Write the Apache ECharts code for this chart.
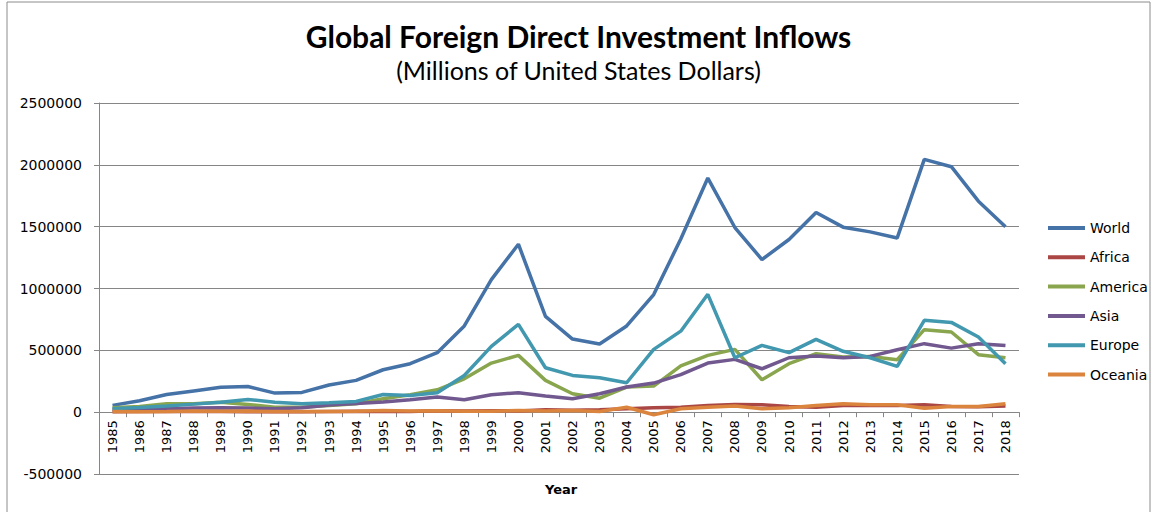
<!DOCTYPE html>
<html>
<head>
<meta charset="utf-8">
<script src="https://cdn.jsdelivr.net/npm/echarts@6/dist/echarts.min.js"></script>
<style>
  html, body { margin: 0; padding: 0; background: #fff; }
  #fdiChart { width: 1157px; height: 512px; }
</style>
</head>
<body>
<div id="fdiChart"></div>
<script>
	// years on the x axis
	var years = ['1985', '1986', '1987', '1988', '1989', '1990', '1991', '1992', '1993', '1994',
		'1995', '1996', '1997', '1998', '1999', '2000', '2001', '2002', '2003', '2004',
		'2005', '2006', '2007', '2008', '2009', '2010', '2011', '2012', '2013', '2014',
		'2015', '2016', '2017', '2018'];

	// inflows, millions of USD
	var world = [55000, 92000, 143000, 172000, 201000, 208000, 154000, 160000, 220000, 257000,
		343000, 392000, 481000, 697000, 1072000, 1358000, 775000, 591000, 551000, 697000,
		951000, 1400000, 1893000, 1493000, 1234000, 1396000, 1615000, 1496000, 1458000, 1409000,
		2044000, 1985000, 1706000, 1499000];
	var africa = [3000, 5000, 5000, 5000, 5000, 3000, 4000, 4000, 6000, 7000,
		6000, 6000, 11000, 10000, 12000, 10000, 20000, 15000, 19000, 27000,
		36000, 40000, 54000, 62000, 60000, 46000, 40000, 54000, 54000, 54000,
		60000, 46000, 44000, 50000];
	var america = [36000, 46000, 68000, 68000, 81000, 62000, 40000, 40000, 54000, 68000,
		108000, 141000, 181000, 270000, 397000, 459000, 257000, 149000, 113000, 203000,
		211000, 375000, 459000, 508000, 262000, 392000, 473000, 446000, 451000, 424000,
		667000, 648000, 465000, 440000];
	var asia = [22000, 19000, 27000, 33000, 35000, 33000, 28000, 35000, 58000, 70000,
		82000, 100000, 122000, 100000, 141000, 157000, 130000, 108000, 149000, 203000,
		235000, 303000, 397000, 427000, 351000, 440000, 454000, 440000, 451000, 505000,
		554000, 518000, 554000, 540000];
	var europe = [27000, 37000, 50000, 65000, 81000, 103000, 81000, 68000, 76000, 87000,
		143000, 135000, 157000, 297000, 532000, 710000, 359000, 297000, 278000, 238000,
		508000, 655000, 953000, 440000, 540000, 481000, 589000, 492000, 440000, 370000,
		743000, 726000, 608000, 392000];
	var oceania = [5000, 4000, 6000, 9000, 8000, 9000, 5000, 6000, 6000, 8000,
		13000, 10000, 12000, 8000, 7000, 13000, 10000, 14000, 6000, 40000,
		-21000, 27000, 40000, 49000, 27000, 36000, 54000, 68000, 60000, 60000,
		32000, 46000, 46000, 68000];

	var seriesNames = ['World', 'Africa', 'America', 'Asia', 'Europe', 'Oceania'];
	var seriesData = [world, africa, america, asia, europe, oceania];
	var colors = ['#4572A7', '#AA4643', '#89A54E', '#71588F', '#4198AF', '#DB843D'];

	var yMin = -500000, yMax = 2500000;
	var gridTop = 103, gridBottom = 38;
	var plotH = 512 - gridTop - gridBottom;
	// move the category axis up so that it sits on the zero line
	var zeroOffset = -plotH * (0 - yMin) / (yMax - yMin);

	var fdiChart = echarts.init(document.getElementById('fdiChart'), null, {
		renderer: 'svg'
	});

	var series = [];
	for (var i = 0; i < seriesNames.length; i++) {
		series.push({
			name: seriesNames[i],
			type: 'line',
			data: seriesData[i],
			symbol: 'none',
			smooth: false,
			lineStyle: { width: 3.5, color: colors[i] },
			itemStyle: { color: colors[i] }
		});
	}

	var option = {
		animation: false,
		title: [{
			text: 'Global Foreign Direct Investment Inflows',
			left: 'center',
			top: 16,
			textStyle: { fontFamily: 'Lato', fontWeight: 'bold', fontSize: 30, color: '#000' }
		}, {
			text: '(Millions of United States Dollars)',
			left: 'center',
			top: 52,
			textStyle: { fontFamily: 'Lato', fontWeight: 'normal', fontSize: 25, color: '#000' }
		}, {
			text: 'Year',
			left: 540,
			top: 478,
			textStyle: { fontFamily: 'DejaVu Sans', fontWeight: 'bold', fontSize: 13, color: '#000' }
		}],
		graphic: [{
			type: 'rect',
			shape: { x: 7, y: 2, width: 1143, height: 540 },
			style: { fill: 'none', stroke: '#8c8c8c', lineWidth: 1 }
		}],
		legend: {
			orient: 'vertical',
			left: 1043,
			top: 216,
			icon: 'rect',
			itemWidth: 37,
			itemHeight: 4,
			itemGap: 15.3,
			data: seriesNames,
			textStyle: { fontFamily: 'DejaVu Sans', fontSize: 14, color: '#000' }
		},
		grid: {
			left: 99,
			right: 138,
			top: gridTop,
			bottom: gridBottom,
			outerBoundsMode: 'none'
		},
		xAxis: {
			type: 'category',
			data: years,
			boundaryGap: true,
			offset: zeroOffset,
			axisLine: { onZero: false, lineStyle: { color: '#868686', width: 1 } },
			axisTick: { show: true, interval: 0, length: 5, lineStyle: { color: '#868686' } },
			axisLabel: {
				interval: 0,
				rotate: 90,
				margin: 8,
				fontFamily: 'DejaVu Sans',
				fontSize: 13,
				color: '#000'
			},
			splitLine: { show: false }
		},
		yAxis: {
			type: 'value',
			min: yMin,
			max: yMax,
			interval: 500000,
			axisLine: { show: true, lineStyle: { color: '#868686', width: 1 } },
			axisTick: { show: true, length: 5, lineStyle: { color: '#868686' } },
			axisLabel: {
				margin: 17,
				fontFamily: 'DejaVu Sans',
				fontSize: 14,
				color: '#000',
				formatter: function (v) { return String(v); }
			},
			splitLine: { show: true, lineStyle: { color: '#868686', width: 1 } }
		},
		series: series
	};

	fdiChart.setOption(option);
</script>
</body>
</html>
